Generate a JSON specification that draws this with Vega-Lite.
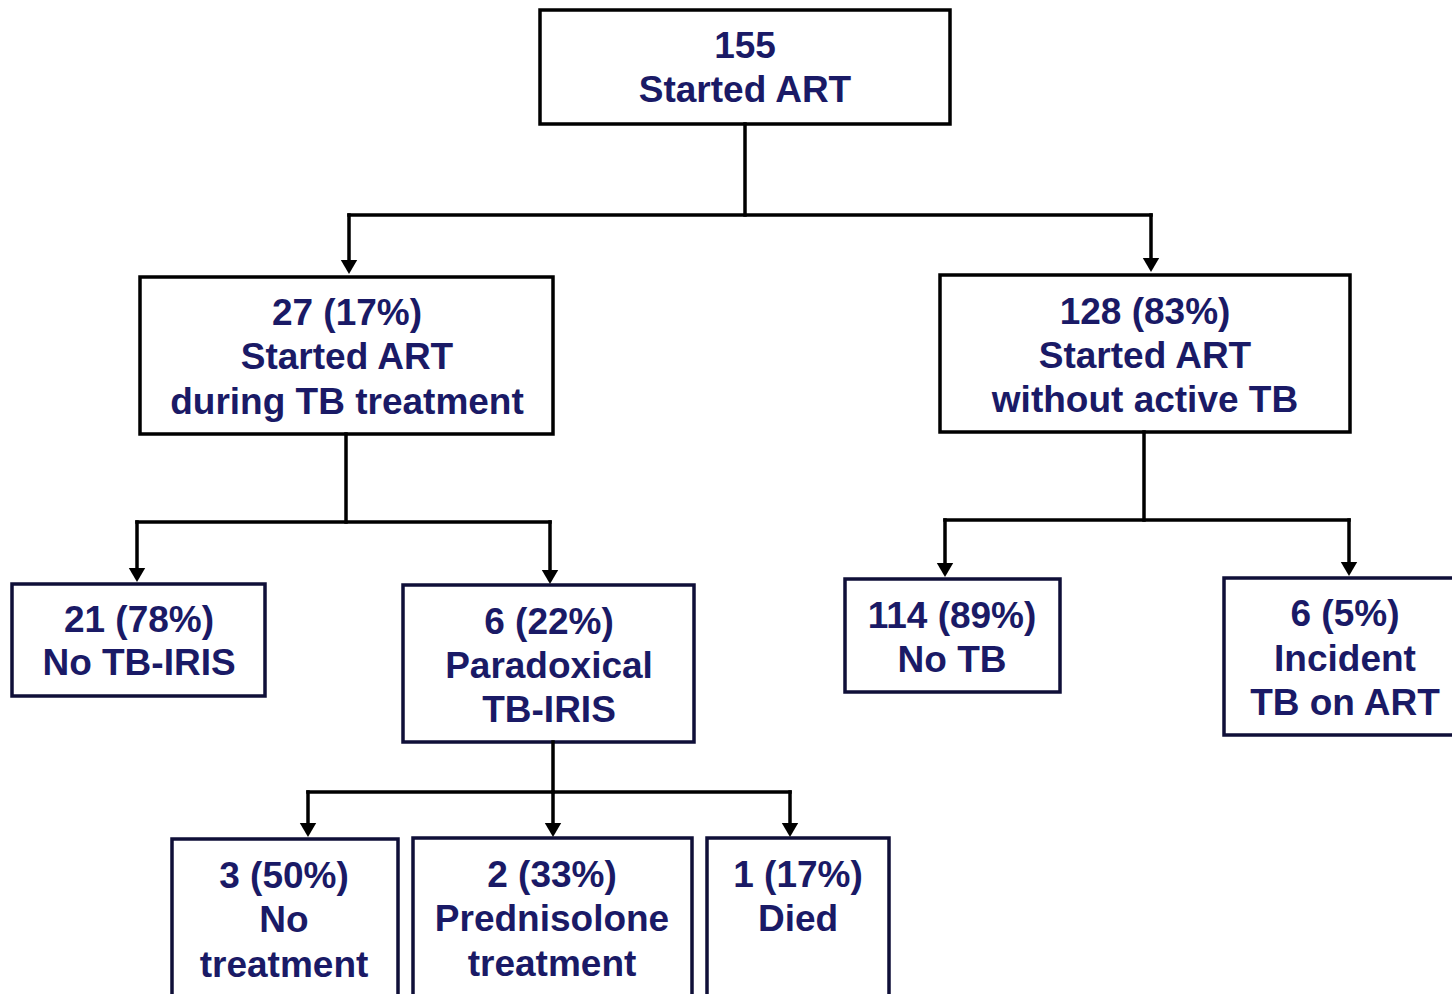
{
  "$schema": "https://vega.github.io/schema/vega-lite/v6.json",
  "width": 1452,
  "height": 994,
  "padding": 0,
  "autosize": {"type": "fit", "contains": "padding"},
  "background": "white",
  "config": {"view": {"stroke": null}},
  "datasets": {
    "boxes": [
      {"id": "A", "x1": 540, "x2": 950, "y1": 10, "y2": 124, "tier": "upper"},
      {"id": "B", "x1": 140, "x2": 553, "y1": 277, "y2": 434, "tier": "upper"},
      {"id": "C", "x1": 940, "x2": 1350, "y1": 275, "y2": 432, "tier": "upper"},
      {"id": "D", "x1": 12, "x2": 265, "y1": 584, "y2": 696, "tier": "lower"},
      {"id": "E", "x1": 403, "x2": 694, "y1": 585, "y2": 742, "tier": "lower"},
      {"id": "F", "x1": 845, "x2": 1060, "y1": 579, "y2": 692, "tier": "lower"},
      {"id": "G", "x1": 1224, "x2": 1470, "y1": 578, "y2": 735, "tier": "lower"},
      {"id": "H", "x1": 172, "x2": 398, "y1": 839, "y2": 1010, "tier": "lower"},
      {"id": "I", "x1": 413, "x2": 692, "y1": 838, "y2": 1010, "tier": "lower"},
      {"id": "J", "x1": 707, "x2": 889, "y1": 838, "y2": 1010, "tier": "lower"}
    ],
    "links": [
      {"x1": 745, "y1": 124, "x2": 745, "y2": 215},
      {"x1": 349, "y1": 215, "x2": 1151, "y2": 215},
      {"x1": 349, "y1": 215, "x2": 349, "y2": 266},
      {"x1": 1151, "y1": 215, "x2": 1151, "y2": 264},
      {"x1": 346, "y1": 434, "x2": 346, "y2": 522},
      {"x1": 137, "y1": 522, "x2": 550, "y2": 522},
      {"x1": 137, "y1": 522, "x2": 137, "y2": 574},
      {"x1": 550, "y1": 522, "x2": 550, "y2": 576},
      {"x1": 1144, "y1": 432, "x2": 1144, "y2": 520},
      {"x1": 945, "y1": 520, "x2": 1349, "y2": 520},
      {"x1": 945, "y1": 520, "x2": 945, "y2": 569},
      {"x1": 1349, "y1": 520, "x2": 1349, "y2": 568},
      {"x1": 553, "y1": 742, "x2": 553, "y2": 792},
      {"x1": 308, "y1": 792, "x2": 790, "y2": 792},
      {"x1": 308, "y1": 792, "x2": 308, "y2": 829},
      {"x1": 553, "y1": 792, "x2": 553, "y2": 829},
      {"x1": 790, "y1": 792, "x2": 790, "y2": 829}
    ],
    "arrows": [
      {"x": 349, "y": 267},
      {"x": 1151, "y": 265},
      {"x": 137, "y": 575},
      {"x": 550, "y": 577},
      {"x": 945, "y": 570},
      {"x": 1349, "y": 569},
      {"x": 308, "y": 830},
      {"x": 553, "y": 830},
      {"x": 790, "y": 830}
    ],
    "labels": [
      {"x": 745, "y": 45, "t": "155"},
      {"x": 745, "y": 89, "t": "Started ART"},
      {"x": 347, "y": 312, "t": "27 (17%)"},
      {"x": 347, "y": 356, "t": "Started ART"},
      {"x": 347, "y": 401, "t": "during TB treatment"},
      {"x": 1145, "y": 311, "t": "128 (83%)"},
      {"x": 1145, "y": 355, "t": "Started ART"},
      {"x": 1145, "y": 399, "t": "without active TB"},
      {"x": 139, "y": 619, "t": "21 (78%)"},
      {"x": 139, "y": 662, "t": "No TB-IRIS"},
      {"x": 549, "y": 621, "t": "6 (22%)"},
      {"x": 549, "y": 665, "t": "Paradoxical"},
      {"x": 549, "y": 709, "t": "TB-IRIS"},
      {"x": 952, "y": 615, "t": "114 (89%)"},
      {"x": 952, "y": 659, "t": "No TB"},
      {"x": 1345, "y": 613, "t": "6 (5%)"},
      {"x": 1345, "y": 658, "t": "Incident"},
      {"x": 1345, "y": 702, "t": "TB on ART"},
      {"x": 284, "y": 875, "t": "3 (50%)"},
      {"x": 284, "y": 919, "t": "No"},
      {"x": 284, "y": 964, "t": "treatment"},
      {"x": 552, "y": 874, "t": "2 (33%)"},
      {"x": 552, "y": 918, "t": "Prednisolone"},
      {"x": 552, "y": 963, "t": "treatment"},
      {"x": 798, "y": 874, "t": "1 (17%)"},
      {"x": 798, "y": 918, "t": "Died"}
    ]
  },
  "layer": [
    {
      "data": {"name": "boxes"},
      "mark": {"type": "rect", "fill": "white", "strokeWidth": 3.5, "clip": true},
      "encoding": {
        "x": {"field": "x1", "type": "quantitative", "scale": {"domain": [0, 1452], "nice": false, "zero": false}, "axis": null},
        "x2": {"field": "x2"},
        "y": {"field": "y1", "type": "quantitative", "scale": {"domain": [0, 994], "nice": false, "zero": false, "reverse": true}, "axis": null},
        "y2": {"field": "y2"},
        "stroke": {"field": "tier", "type": "nominal", "scale": {"domain": ["upper", "lower"], "range": ["#000000", "#0f0f38"]}, "legend": null}
      }
    },
    {
      "data": {"name": "links"},
      "mark": {"type": "rule", "color": "#000000", "strokeWidth": 3.5, "strokeCap": "square"},
      "encoding": {
        "x": {"field": "x1", "type": "quantitative"},
        "x2": {"field": "x2"},
        "y": {"field": "y1", "type": "quantitative"},
        "y2": {"field": "y2"}
      }
    },
    {
      "data": {"name": "arrows"},
      "mark": {"type": "point", "shape": "triangle-down", "filled": true, "color": "#000000", "size": 270, "opacity": 1},
      "encoding": {
        "x": {"field": "x", "type": "quantitative"},
        "y": {"field": "y", "type": "quantitative"}
      }
    },
    {
      "data": {"name": "labels"},
      "mark": {"type": "text", "font": "Liberation Sans", "fontWeight": "bold", "fontSize": 37, "color": "#1a1a66", "align": "center", "baseline": "middle", "dy": 2},
      "encoding": {
        "x": {"field": "x", "type": "quantitative"},
        "y": {"field": "y", "type": "quantitative"},
        "text": {"field": "t", "type": "nominal"}
      }
    }
  ]
}
